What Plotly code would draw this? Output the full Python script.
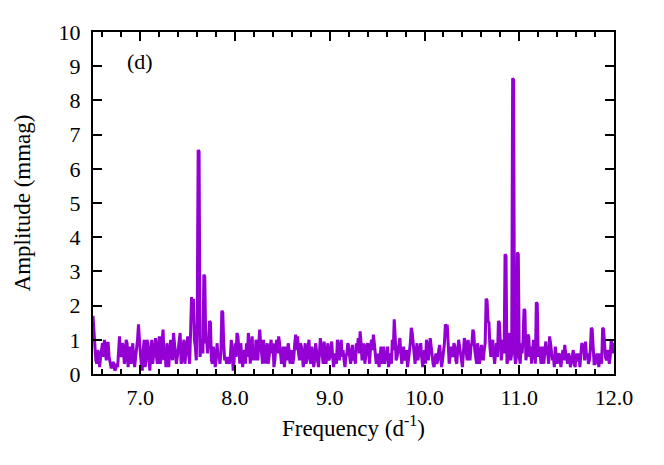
import numpy as np
import plotly.graph_objects as go

FREQ_START = 6.50
FREQ_STEP = 0.01
amplitude = [
    1.7, 1.2, 0.9, 0.4, 0.3, 0.7, 0.6, 0.2, 0.5, 0.8,        # 6.5
    0.9, 0.5, 1.0, 0.7, 0.4, 0.9, 0.9, 0.5, 0.3, 0.2,        # 6.6
    0.2, 0.35, 0.3, 0.1, 0.15, 0.3, 0.2, 0.8, 1.1, 0.6,      # 6.7
    0.5, 0.9, 0.8, 0.3, 0.4, 1.0, 0.9, 0.2, 0.6, 0.8,        # 6.8
    0.3, 0.6, 0.9, 0.4, 0.2, 0.5, 0.7, 1.0, 1.45, 0.9,       # 6.9
    0.6, 0.3, 0.1, 0.7, 1.0, 0.2, 0.4, 1.0, 0.9, 0.5,        # 7.0
    0.1, 0.6, 1.0, 0.3, 0.6, 0.9, 1.05, 0.5, 0.3, 0.8,       # 7.1
    1.1, 0.3, 0.5, 1.0, 1.3, 0.4, 0.7, 0.2, 0.9, 0.6,        # 7.2
    0.2, 0.7, 1.0, 0.6, 0.4, 1.2, 0.8, 0.4, 0.3, 0.5,        # 7.3
    0.7, 0.9, 1.2, 0.3, 0.4, 0.8, 1.0, 0.3, 0.6, 0.9,        # 7.4
    1.1, 0.6, 0.3, 1.2, 2.25, 1.6, 2.2, 1.0, 0.8, 0.4,       # 7.5
    1.5, 6.55, 6.5, 0.5, 0.8, 1.0, 0.6, 2.9, 2.85, 0.9,      # 7.6
    1.0, 0.6, 1.0, 1.55, 1.5, 0.4, 0.3, 0.8, 0.6, 0.2,       # 7.7
    0.4, 0.9, 0.5, 0.6, 0.3, 0.6, 1.85, 1.8, 0.9, 0.4,       # 7.8
    0.5, 0.3, 0.5, 0.4, 0.3, 0.5, 1.0, 0.6, 0.1, 0.4,        # 7.9
    0.9, 0.5, 1.2, 1.1, 0.6, 0.3, 0.9, 0.6, 0.2, 0.5,        # 8.0
    0.7, 0.3, 0.9, 0.5, 1.2, 0.8, 0.3, 0.7, 1.1, 0.4,        # 8.1
    0.7, 0.4, 1.0, 0.8, 0.4, 0.9, 1.3, 0.9, 0.6, 0.3,        # 8.2
    1.0, 0.6, 0.3, 0.7, 0.9, 0.3, 0.5, 0.8, 1.0, 0.6,        # 8.3
    0.9, 0.2, 0.4, 0.8, 1.0, 0.6, 1.1, 0.9, 0.5, 0.3,        # 8.4
    0.6, 0.8, 0.2, 0.5, 0.8, 0.4, 0.9, 0.7, 0.3, 0.5,        # 8.5
    0.7, 0.3, 0.5, 0.9, 1.15, 0.7, 1.1, 0.6, 0.4, 0.9,       # 8.6
    0.8, 0.5, 0.2, 0.6, 0.9, 0.3, 0.6, 0.8, 1.0, 0.4,        # 8.7
    0.3, 0.8, 0.6, 0.2, 0.4, 0.9, 0.7, 0.4, 0.2, 0.6,        # 8.8
    1.05, 0.8, 0.6, 0.3, 0.95, 0.7, 0.3, 0.6, 0.9, 0.4,      # 8.9
    0.5, 0.7, 0.95, 0.5, 0.2, 0.4, 0.6, 0.3, 1.0, 0.8,       # 9.0
    0.4, 0.7, 1.0, 0.5, 0.7, 0.4, 0.2, 0.5, 0.6, 0.9,        # 9.1
    0.8, 0.5, 0.3, 0.6, 0.85, 0.4, 0.5, 0.3, 0.9, 0.7,       # 9.2
    1.05, 0.6, 1.25, 0.9, 0.4, 0.6, 0.9, 0.3, 0.6, 0.8,      # 9.3
    0.9, 0.5, 0.3, 0.8, 1.0, 0.7, 1.15, 0.9, 0.5, 0.3,       # 9.4
    0.4, 0.6, 0.2, 0.5, 0.8, 0.3, 0.7, 0.8, 0.3, 0.6,        # 9.5
    0.5, 0.8, 0.2, 0.4, 0.6, 0.3, 1.0, 0.7, 1.6, 1.1,        # 9.6
    0.4, 0.5, 0.7, 0.9, 1.05, 0.6, 0.3, 0.5, 0.8, 0.4,       # 9.7
    0.5, 0.7, 0.2, 0.4, 0.6, 0.9, 1.35, 1.2, 0.9, 0.5,       # 9.8
    0.3, 0.6, 0.9, 0.4, 0.6, 0.8, 0.9, 0.5, 0.2, 0.4,        # 9.9
    0.7, 0.3, 1.0, 0.8, 0.4, 0.7, 1.05, 0.8, 0.5, 0.3,       # 10.0
    0.2, 0.5, 0.6, 0.3, 0.4, 0.7, 0.85, 0.5, 0.2, 0.4,       # 10.1
    0.6, 0.9, 1.45, 1.4, 1.4, 0.8, 0.3, 0.5, 0.8, 0.6,       # 10.2
    0.5, 0.9, 0.8, 0.4, 0.3, 0.7, 1.0, 0.8, 0.6, 0.3,        # 10.3
    0.2, 0.6, 1.05, 0.9, 0.7, 0.4, 1.0, 0.7, 0.4, 0.8,       # 10.4
    0.9, 1.3, 1.2, 0.7, 0.5, 0.3, 0.9, 0.6, 0.3, 0.5,        # 10.5
    0.85, 0.6, 0.4, 0.7, 0.9, 2.2, 2.15, 1.55, 1.5, 0.8,     # 10.6
    0.5, 0.8, 1.0, 0.6, 0.3, 0.6, 0.9, 0.5, 1.55, 1.5,       # 10.7
    0.9, 0.4, 0.7, 1.0, 0.6, 3.5, 3.45, 0.3, 0.4, 0.9,       # 10.8
    1.2, 0.4, 0.6, 8.65, 8.6, 0.6, 0.3, 0.5, 3.55, 3.5,      # 10.9
    0.5, 0.3, 0.9, 0.6, 1.0, 1.9, 1.85, 0.4, 0.6, 1.15,      # 11.0
    1.1, 0.5, 0.8, 0.3, 0.6, 1.0, 0.7, 0.3, 2.1, 2.05,       # 11.1
    0.5, 0.8, 0.6, 0.3, 0.8, 0.5, 0.3, 0.7, 0.95, 0.6,       # 11.2
    0.6, 0.3, 1.1, 0.9, 0.7, 0.4, 0.5, 0.2, 0.8, 0.6,        # 11.3
    0.3, 0.5, 0.6, 0.4, 0.2, 0.5, 0.7, 0.4, 0.85, 0.6,       # 11.4
    0.4, 0.3, 0.6, 0.5, 0.2, 0.4, 0.5, 0.7, 0.3, 0.2,        # 11.5
    0.6, 0.4, 0.4, 0.6, 0.2, 0.5, 0.9, 0.85, 0.85, 0.4,      # 11.6
    0.95, 0.5, 0.6, 0.3, 0.4, 0.7, 1.35, 1.3, 0.6, 0.3,      # 11.7
    0.3, 0.5, 0.6, 0.4, 0.2, 0.6, 0.5, 0.3, 1.35, 1.3,       # 11.8
    0.8, 0.5, 0.4, 0.7, 0.6, 0.3, 0.5, 1.0, 0.9, 0.6,        # 11.9
    0.9,                                                     # 12.0
]
frequency = np.round(FREQ_START + FREQ_STEP * np.arange(len(amplitude)), 2)

PURPLE = "#9400D3"
FONT = "Liberation Serif"
TICK_SIZE = 22
TITLE_SIZE = 23

fig = go.Figure(
    go.Scatter(
        x=frequency, y=amplitude, mode="lines",
        line=dict(color=PURPLE, width=3), showlegend=False,
    )
)

axis_common = dict(
    showline=True, linecolor="black", linewidth=2, mirror="ticks",
    ticks="inside", ticklen=9, tickwidth=2, tickcolor="black",
    showgrid=False, zeroline=False,
    tickfont=dict(family=FONT, size=TICK_SIZE, color="black"),
)

fig.update_xaxes(
    range=[6.5, 12.0], tick0=7.0, dtick=1.0, tickformat=".1f",
    ticklabelstandoff=3,
    minor=dict(dtick=0.2, ticks="inside", ticklen=5, tickwidth=1.5, tickcolor="black"),
    title=dict(text="Frequency (d<sup>-1</sup>)",
               font=dict(family=FONT, size=TITLE_SIZE, color="black"), standoff=10),
    **axis_common,
)
fig.update_yaxes(
    range=[0, 10], tick0=0, dtick=1,
    ticklabelstandoff=6,
    title=dict(text="Amplitude (mmag)",
               font=dict(family=FONT, size=TITLE_SIZE, color="black"), standoff=22),
    **axis_common,
)

fig.add_annotation(
    x=7.0, y=9.15, xref="x", yref="y", text="(d)", showarrow=False,
    font=dict(family=FONT, size=TICK_SIZE, color="black"),
)

# page body keeps its default 8px margin, so the figure is shrunk to fit
fig.update_layout(
    width=656, height=457,
    margin=dict(l=84, r=50, t=17, b=91),
    plot_bgcolor="white", paper_bgcolor="white",
)

fig.write_html("out.html")
